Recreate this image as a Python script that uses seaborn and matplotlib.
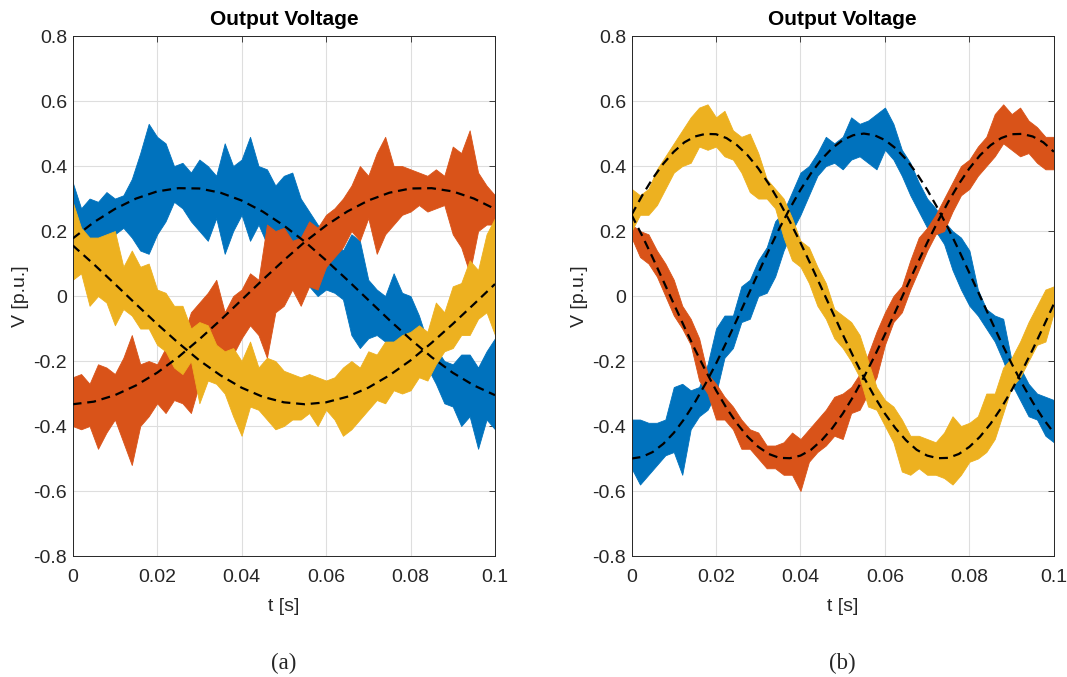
import numpy as np
import pandas as pd
import matplotlib
matplotlib.use('Agg')
import matplotlib.pyplot as plt
import seaborn as sns

# time grids (s)
t_env = np.linspace(0, 0.1, 51)
t_ref_a = np.linspace(0, 0.1, 21)
t_ref_b = np.linspace(0, 0.1, 41)

# ---- panel (a): noisy phase voltages, envelope ----
a_blue_hi = [0.35, 0.27, 0.30, 0.29, 0.32, 0.30, 0.31, 0.36, 0.44, 0.53, 0.49, 0.47, 0.40,
             0.41, 0.38, 0.42, 0.40, 0.37, 0.47, 0.40, 0.42, 0.49, 0.40, 0.39, 0.34,
             0.37, 0.38, 0.30, 0.26, 0.22, 0.19, 0.17, 0.14, 0.19, 0.17, 0.05, 0.02, 0.00,
             0.07, 0.01, 0.00, -0.06, -0.14, -0.16, -0.20, -0.21, -0.18, -0.18, -0.22, -0.17, -0.13]
a_blue_lo = [0.05, 0.17, 0.16, 0.18, 0.17, 0.19, 0.21, 0.18, 0.14, 0.13, 0.19, 0.23, 0.29,
             0.27, 0.23, 0.20, 0.17, 0.24, 0.13, 0.20, 0.25, 0.17, 0.22, 0.16, 0.18,
             0.07, 0.03, 0.05, 0.03, 0.00, 0.02, 0.01, -0.01, -0.12, -0.16, -0.13, -0.12, -0.14,
             -0.14, -0.17, -0.16, -0.18, -0.22, -0.27, -0.33, -0.34, -0.40, -0.37, -0.47, -0.38, -0.41]
a_red_hi = [-0.25, -0.24, -0.27, -0.21, -0.22, -0.24, -0.19, -0.12, -0.21, -0.20, -0.21, -0.16, -0.21,
            -0.13, -0.05, -0.02, 0.01, 0.05, -0.05, 0.00, 0.02, 0.07, 0.05, 0.22, 0.20,
            0.21, 0.17, 0.18, 0.23, 0.21, 0.25, 0.27, 0.30, 0.34, 0.40, 0.37, 0.44, 0.49,
            0.40, 0.40, 0.39, 0.38, 0.37, 0.39, 0.37, 0.46, 0.44, 0.51, 0.38, 0.34, 0.31]
a_red_lo = [-0.40, -0.41, -0.40, -0.47, -0.42, -0.38, -0.45, -0.52, -0.40, -0.37, -0.33, -0.36, -0.32,
            -0.33, -0.36, -0.27, -0.24, -0.18, -0.23, -0.18, -0.13, -0.09, -0.12, -0.19, -0.05,
            -0.03, 0.02, -0.03, 0.03, 0.02, 0.09, 0.12, 0.15, 0.20, 0.17, 0.24, 0.13, 0.19,
            0.22, 0.25, 0.26, 0.28, 0.26, 0.27, 0.28, 0.19, 0.15, 0.07, 0.20, 0.22, 0.22]
a_yel_hi = [0.29, 0.21, 0.18, 0.18, 0.19, 0.20, 0.09, 0.14, 0.09, 0.10, 0.02, 0.01, -0.03,
            -0.03, -0.10, -0.08, -0.09, -0.15, -0.17, -0.16, -0.20, -0.14, -0.22, -0.19, -0.20,
            -0.23, -0.24, -0.25, -0.24, -0.25, -0.26, -0.25, -0.22, -0.20, -0.22, -0.17, -0.18, -0.14,
            -0.14, -0.12, -0.11, -0.09, -0.11, -0.02, -0.05, 0.03, 0.04, 0.11, 0.08, 0.19, 0.24]
a_yel_lo = [0.05, 0.07, -0.03, 0.00, -0.02, -0.09, -0.04, -0.06, -0.10, -0.10, -0.15, -0.17, -0.22,
            -0.24, -0.20, -0.33, -0.26, -0.27, -0.30, -0.37, -0.43, -0.34, -0.35, -0.38, -0.41,
            -0.40, -0.38, -0.38, -0.36, -0.40, -0.35, -0.38, -0.43, -0.41, -0.38, -0.35, -0.32, -0.33,
            -0.29, -0.30, -0.29, -0.25, -0.26, -0.21, -0.17, -0.16, -0.12, -0.12, -0.07, -0.05, -0.12]

# panel (a) references (dashed)
a_ref_blue = [0.177, 0.227, 0.268, 0.300, 0.322, 0.332, 0.331, 0.318, 0.294, 0.260, 0.217,
              0.167, 0.110, 0.050, -0.012, -0.074, -0.133, -0.188, -0.236, -0.275, -0.305]
a_ref_red = [-0.333, -0.325, -0.305, -0.275, -0.236, -0.188, -0.133, -0.074, -0.012, 0.050, 0.110,
             0.167, 0.217, 0.260, 0.294, 0.318, 0.331, 0.332, 0.322, 0.300, 0.268]
a_ref_yel = [0.156, 0.098, 0.037, -0.025, -0.086, -0.144, -0.198, -0.244, -0.282, -0.310, -0.327,
             -0.333, -0.327, -0.310, -0.282, -0.244, -0.198, -0.144, -0.086, -0.025, 0.037]

# ---- panel (b) ----
b_blue_hi = [-0.38, -0.38, -0.39, -0.39, -0.38, -0.28, -0.27, -0.29, -0.28, -0.21, -0.10, -0.06, -0.06,
             0.03, 0.05, 0.11, 0.15, 0.23, 0.26, 0.32, 0.38, 0.40, 0.44, 0.49, 0.47,
             0.49, 0.55, 0.53, 0.54, 0.56, 0.58, 0.53, 0.45, 0.41, 0.35, 0.30, 0.27, 0.23,
             0.20, 0.18, 0.14, 0.02, -0.04, -0.06, -0.07, -0.20, -0.22, -0.27, -0.30, -0.31, -0.32]
b_blue_lo = [-0.53, -0.58, -0.55, -0.52, -0.49, -0.48, -0.55, -0.41, -0.37, -0.35, -0.30, -0.19, -0.16,
             -0.08, -0.07, 0.00, 0.01, 0.06, 0.14, 0.20, 0.25, 0.31, 0.37, 0.40, 0.41,
             0.39, 0.42, 0.43, 0.41, 0.39, 0.45, 0.42, 0.37, 0.31, 0.26, 0.21, 0.20, 0.16,
             0.08, 0.02, -0.03, -0.06, -0.10, -0.14, -0.20, -0.27, -0.32, -0.37, -0.38, -0.43, -0.45]
b_red_hi = [0.22, 0.20, 0.19, 0.14, 0.10, 0.05, -0.03, -0.07, -0.13, -0.24, -0.27, -0.31, -0.34,
            -0.38, -0.41, -0.42, -0.46, -0.46, -0.45, -0.42, -0.44, -0.41, -0.38, -0.35, -0.31,
            -0.30, -0.28, -0.24, -0.18, -0.11, -0.05, 0.00, 0.03, 0.11, 0.18, 0.21, 0.25, 0.30,
            0.35, 0.40, 0.42, 0.46, 0.49, 0.56, 0.59, 0.56, 0.58, 0.54, 0.52, 0.49, 0.49]
b_red_lo = [0.18, 0.12, 0.10, 0.06, 0.00, -0.06, -0.10, -0.15, -0.26, -0.30, -0.38, -0.38, -0.41,
            -0.47, -0.47, -0.50, -0.53, -0.53, -0.55, -0.55, -0.60, -0.51, -0.48, -0.46, -0.43,
            -0.44, -0.36, -0.35, -0.30, -0.25, -0.15, -0.08, -0.05, 0.02, 0.08, 0.14, 0.19, 0.20,
            0.26, 0.31, 0.33, 0.37, 0.40, 0.43, 0.47, 0.45, 0.43, 0.44, 0.41, 0.39, 0.39]
b_yel_hi = [0.33, 0.31, 0.33, 0.39, 0.43, 0.47, 0.51, 0.55, 0.58, 0.59, 0.55, 0.57, 0.51,
            0.49, 0.50, 0.44, 0.36, 0.33, 0.30, 0.24, 0.17, 0.15, 0.09, 0.04, -0.04,
            -0.06, -0.08, -0.12, -0.20, -0.28, -0.32, -0.34, -0.38, -0.43, -0.43, -0.44, -0.45, -0.42,
            -0.37, -0.40, -0.39, -0.37, -0.30, -0.30, -0.22, -0.19, -0.14, -0.08, -0.03, 0.02, 0.03]
b_yel_lo = [0.20, 0.25, 0.25, 0.28, 0.33, 0.38, 0.40, 0.41, 0.46, 0.45, 0.46, 0.43, 0.42,
            0.38, 0.32, 0.30, 0.30, 0.27, 0.18, 0.11, 0.09, 0.04, -0.03, -0.07, -0.13,
            -0.16, -0.20, -0.25, -0.34, -0.35, -0.40, -0.45, -0.54, -0.55, -0.53, -0.55, -0.55, -0.56,
            -0.58, -0.55, -0.51, -0.50, -0.48, -0.44, -0.36, -0.28, -0.25, -0.20, -0.15, -0.14, -0.05]

b_ref_blue = [-0.500, -0.495, -0.480, -0.455, -0.421, -0.378, -0.327, -0.270, -0.208, -0.141, -0.071,
              0.000, 0.071, 0.141, 0.208, 0.270, 0.327, 0.378, 0.421, 0.455, 0.480,
              0.495, 0.500, 0.495, 0.480, 0.455, 0.421, 0.378, 0.327, 0.270, 0.208,
              0.141, 0.071, 0.000, -0.071, -0.141, -0.208, -0.270, -0.327, -0.378, -0.421]
b_ref_red = [0.250, 0.186, 0.118, 0.047, -0.024, -0.095, -0.164, -0.229, -0.290, -0.345, -0.393,
             -0.433, -0.464, -0.486, -0.498, -0.499, -0.491, -0.473, -0.444, -0.407, -0.362,
             -0.309, -0.250, -0.186, -0.118, -0.047, 0.024, 0.095, 0.164, 0.229, 0.290,
             0.345, 0.393, 0.433, 0.464, 0.486, 0.498, 0.499, 0.491, 0.473, 0.444]
b_ref_yel = [0.250, 0.309, 0.362, 0.407, 0.444, 0.473, 0.491, 0.499, 0.498, 0.486, 0.464,
             0.433, 0.393, 0.345, 0.290, 0.229, 0.164, 0.095, 0.024, -0.047, -0.118,
             -0.186, -0.250, -0.309, -0.362, -0.407, -0.444, -0.473, -0.491, -0.499, -0.498,
             -0.486, -0.464, -0.433, -0.393, -0.345, -0.290, -0.229, -0.164, -0.095, -0.024]

colors = ['#0072BD', '#D95319', '#EDB120']
xticks = [0, 0.02, 0.04, 0.06, 0.08, 0.1]
xticklabels = ['0', '0.02', '0.04', '0.06', '0.08', '0.1']
yticks = [-0.8, -0.6, -0.4, -0.2, 0, 0.2, 0.4, 0.6, 0.8]
yticklabels = ['-0.8', '-0.6', '-0.4', '-0.2', '0', '0.2', '0.4', '0.6', '0.8']

sns.set_style('whitegrid')
plt.rcParams['font.family'] = ['Liberation Sans', 'DejaVu Sans']

fig = plt.figure(figsize=(10.67, 6.77), dpi=100)
ax_a = fig.add_axes([0.0681, 0.1787, 0.3958, 0.768])
ax_b = fig.add_axes([0.5919, 0.1787, 0.3958, 0.768])

panels = [
    (ax_a, [(a_blue_lo, a_blue_hi), (a_red_lo, a_red_hi), (a_yel_lo, a_yel_hi)],
     t_ref_a, [a_ref_blue, a_ref_red, a_ref_yel], '(a)'),
    (ax_b, [(b_blue_lo, b_blue_hi), (b_red_lo, b_red_hi), (b_yel_lo, b_yel_hi)],
     t_ref_b, [b_ref_blue, b_ref_red, b_ref_yel], '(b)'),
]

for ax, bands, t_ref, refs, cap in panels:
    for (lo, hi), c in zip(bands, colors):
        ax.fill_between(t_env, lo, hi, color=c, linewidth=0.6, edgecolor=c, zorder=2)
    ref_df = pd.concat([pd.DataFrame({'t': t_ref, 'v': r, 'ph': i}) for i, r in enumerate(refs)])
    sns.lineplot(data=ref_df, x='t', y='v', units='ph', estimator=None, color='black',
                 linestyle=(0, (4, 2.6)), linewidth=1.6, ax=ax, zorder=3)
    ax.set_xlim(0, 0.1)
    ax.set_ylim(-0.8, 0.8)
    ax.set_xticks(xticks)
    ax.set_xticklabels(xticklabels)
    ax.set_yticks(yticks)
    ax.set_yticklabels(yticklabels)
    ax.grid(True, color='#dedede', linewidth=0.8)
    ax.tick_params(axis='both', direction='in', length=4, width=0.6, colors='#262626',
                   labelsize=14, top=True, right=True)
    ax.tick_params(axis='x', pad=9)
    ax.tick_params(axis='y', pad=4)
    for s in ax.spines.values():
        s.set_visible(True)
        s.set_color('#262626')
        s.set_linewidth(0.7)
    ax.set_xlabel('t [s]', fontsize=14, color='#262626', labelpad=9)
    ax.set_ylabel('V [p.u.]', fontsize=14, color='#262626', labelpad=3)
    ax.set_title('Output Voltage', fontsize=15, fontweight='bold', color='black', pad=8)
    ax.text(0.5, -0.186, cap, transform=ax.transAxes, ha='center', va='top',
            fontsize=16.5, family=['Liberation Serif', 'DejaVu Serif'])

fig.savefig('out.png', dpi=100, facecolor='white')
